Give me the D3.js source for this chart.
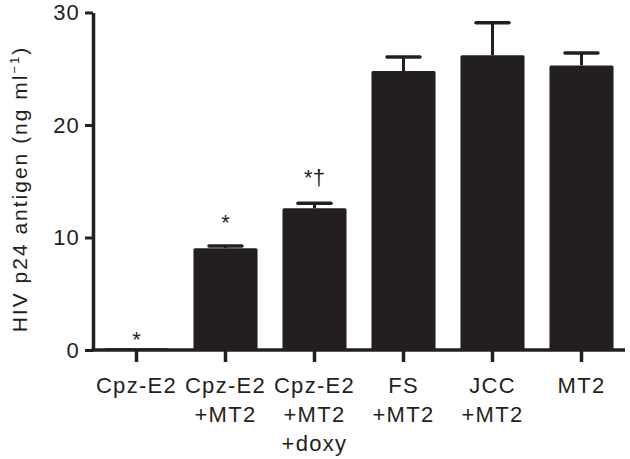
<!DOCTYPE html>
<html>
<head>
<meta charset="utf-8">
<script src="https://cdnjs.cloudflare.com/ajax/libs/d3/7.8.5/d3.min.js"></script>
<style>
  body { margin: 0; background: #fff; }
  svg { display: block; }
  text { font-family: "Liberation Sans", Arial, sans-serif; fill: #231f20; }
</style>
</head>
<body>
<svg width="630" height="459"></svg>
<script>
const svg = d3.select('svg');
const ink = '#231f20';

// data
const categories = ['Cpz-E2', 'Cpz-E2+MT2', 'Cpz-E2+MT2+doxy', 'FS+MT2', 'JCC+MT2', 'MT2'];
const labelLines = [['Cpz-E2'], ['Cpz-E2', '+MT2'], ['Cpz-E2', '+MT2', '+doxy'], ['FS', '+MT2'], ['JCC', '+MT2'], ['MT2']];
const means = [0.15, 9.05, 12.6, 24.8, 26.2, 25.3];
const errors = [0, 0.2, 0.45, 1.25, 2.9, 1.1];
const marks = ['*', '*', '*\u2020', '', '', ''];
// height (in ng/ml) where each significance mark sits
const markLevels = [1.3, 11.75, 15.7, 0, 0, 0];
const yTicks = [0, 10, 20, 30];

const data = categories.map((c, i) => ({
  name: c, lines: labelLines[i], mean: means[i], err: errors[i],
  mark: marks[i], markLevel: markLevels[i]
}));

const xScale = d3.scaleBand()
  .domain(categories)
  .range([92, 626])
  .paddingInner(0.28)
  .paddingOuter(0.14);

const yScale = d3.scaleLinear()
  .domain([0, 30])
  .range([350, 12.5]);

const xMid = d => xScale(d.name) + xScale.bandwidth() / 2;

// bars
svg.append('g').selectAll('rect').data(data)
  .enter().append('rect')
    .attr('x', d => xScale(d.name))
    .attr('y', d => yScale(d.mean))
    .attr('width', xScale.bandwidth())
    .attr('height', d => yScale(0) - yScale(d.mean))
    .attr('rx', 1.5)
    .attr('fill', ink);

// upper error bars
const eb = svg.append('g').selectAll('g').data(data.filter(d => d.err > 0))
  .enter().append('g');
eb.append('line')
    .attr('x1', xMid).attr('x2', xMid)
    .attr('y1', d => yScale(d.mean))
    .attr('y2', d => yScale(d.mean + d.err))
    .attr('stroke', ink).attr('stroke-width', 3);
eb.append('line')
    .attr('x1', d => xMid(d) - 16.5).attr('x2', d => xMid(d) + 16.5)
    .attr('y1', d => yScale(d.mean + d.err))
    .attr('y2', d => yScale(d.mean + d.err))
    .attr('stroke', ink).attr('stroke-width', 3.5)
    .attr('stroke-linecap', 'round');

// significance marks
svg.append('g').selectAll('text').data(data.filter(d => d.mark))
  .enter().append('text')
    .attr('x', xMid)
    .attr('y', d => yScale(d.markLevel) + 12)
    .attr('text-anchor', 'middle')
    .attr('font-size', 22)
    .text(d => d.mark);

// y axis
const yAxis = d3.axisLeft(yScale)
  .tickValues(yTicks)
  .tickSize(8)
  .tickSizeOuter(0)
  .tickPadding(5);
const yAxisG = svg.append('g')
  .attr('transform', 'translate(93,0)')
  .call(yAxis);
yAxisG.select('.domain').attr('stroke', ink).attr('stroke-width', 3.5);
yAxisG.selectAll('.tick line').attr('stroke', ink).attr('stroke-width', 3);
yAxisG.selectAll('.tick text')
  .attr('font-size', 22)
  .attr('letter-spacing', 1.2)
  .attr('fill', ink)
  .style('font-family', '"Liberation Sans", Arial, sans-serif');

// x axis
const xAxis = d3.axisBottom(xScale)
  .tickSize(12)
  .tickSizeOuter(0)
  .tickFormat('');
const xAxisG = svg.append('g')
  .attr('transform', 'translate(0,350)')
  .call(xAxis);
xAxisG.select('.domain').attr('stroke', ink).attr('stroke-width', 3.5)
  .attr('d', 'M91.5,0H625');
xAxisG.selectAll('.tick line').attr('stroke', ink).attr('stroke-width', 3.5);

const labels = svg.append('g').selectAll('text').data(data)
  .enter().append('text')
    .attr('text-anchor', 'middle')
    .attr('font-size', 22)
    .attr('letter-spacing', 1.3);
labels.selectAll('tspan').data(d => d.lines.map(l => ({ l, x: xMid(d) })))
  .enter().append('tspan')
    .attr('x', d => d.x)
    .attr('y', (d, i) => 393 + i * 29)
    .text(d => d.l);

// y axis title
const title = svg.append('text')
  .attr('transform', 'translate(27,189) rotate(-90)')
  .attr('text-anchor', 'middle')
  .attr('font-size', 21)
  .attr('letter-spacing', 2);
title.append('tspan').text('HIV p24 antigen (ng ml');
title.append('tspan').attr('font-size', 13).attr('dy', -8).text('\u22121');
title.append('tspan').attr('dy', 8).text(')');
</script>
</body>
</html>
